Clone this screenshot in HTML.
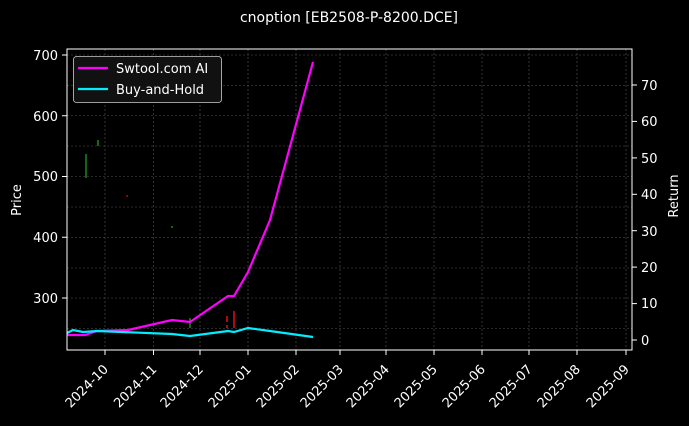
<!DOCTYPE html>
<html><head><style>body{margin:0;background:#000;}svg text{font-family:"DejaVu Sans","Liberation Sans",sans-serif;fill:#fff;}</style></head>
<body><svg width="689" height="421" xmlns="http://www.w3.org/2000/svg">
<rect width="689" height="421" fill="#000"/>
<text x="349" y="22" font-size="14" text-anchor="middle">cnoption [EB2508-P-8200.DCE]</text>
<rect x="67" y="49" width="565" height="301" fill="#000"/>
<g stroke="#555" stroke-width="0.6" stroke-dasharray="2,2">
<line x1="105" y1="49" x2="105" y2="350"/><line x1="153.5" y1="49" x2="153.5" y2="350"/><line x1="200" y1="49" x2="200" y2="350"/><line x1="248" y1="49" x2="248" y2="350"/><line x1="296" y1="49" x2="296" y2="350"/><line x1="340" y1="49" x2="340" y2="350"/><line x1="386" y1="49" x2="386" y2="350"/><line x1="434" y1="49" x2="434" y2="350"/><line x1="482" y1="49" x2="482" y2="350"/><line x1="529" y1="49" x2="529" y2="350"/><line x1="577" y1="49" x2="577" y2="350"/><line x1="626" y1="49" x2="626" y2="350"/>
<line x1="67" y1="55" x2="632" y2="55"/><line x1="67" y1="115.75" x2="632" y2="115.75"/><line x1="67" y1="176.5" x2="632" y2="176.5"/><line x1="67" y1="237.25" x2="632" y2="237.25"/><line x1="67" y1="298" x2="632" y2="298"/>
<line x1="67" y1="85.5" x2="632" y2="85.5"/><line x1="67" y1="146" x2="632" y2="146"/><line x1="67" y1="207" x2="632" y2="207"/><line x1="67" y1="268" x2="632" y2="268"/><line x1="67" y1="328.5" x2="632" y2="328.5"/>
</g>
<g stroke-width="1.5">
<line x1="86" y1="154" x2="86" y2="178" stroke="#1a8a1a"/><line x1="98" y1="140" x2="98" y2="146" stroke="#1a8a1a"/>
<line x1="127" y1="195" x2="127" y2="197" stroke="#a01010"/><line x1="172" y1="226" x2="172" y2="228" stroke="#1a8a1a"/>
<line x1="190" y1="318" x2="190" y2="328" stroke="#1a8a1a"/>
<line x1="227" y1="316" x2="227" y2="322" stroke="#e01010"/><line x1="227" y1="325" x2="227" y2="328" stroke="#e01010"/>
<line x1="234" y1="311" x2="234" y2="328" stroke="#e01010"/>
</g>
<polyline fill="none" stroke="#ff00ff" stroke-width="2.2" points="67,335 85,335 97,331 128,330 172,320 190,322 228,296 234,296 248,272 270,220 313,62"/>
<polyline fill="none" stroke="#00eeff" stroke-width="2.2" points="67,333 73,330 83,332 97,331 172,334 190,336 228,331 234,332 248,328 270,331 313,337"/>
<rect x="67" y="49" width="565" height="301" fill="none" stroke="#fff" stroke-width="1"/>
<g stroke="#fff" stroke-width="1">
<line x1="62" y1="55" x2="67" y2="55"/><line x1="62" y1="115.75" x2="67" y2="115.75"/><line x1="62" y1="176.5" x2="67" y2="176.5"/><line x1="62" y1="237.25" x2="67" y2="237.25"/><line x1="62" y1="298" x2="67" y2="298"/>
<line x1="632" y1="340" x2="637" y2="340"/><line x1="632" y1="303.6" x2="637" y2="303.6"/><line x1="632" y1="267.1" x2="637" y2="267.1"/><line x1="632" y1="230.7" x2="637" y2="230.7"/><line x1="632" y1="194.3" x2="637" y2="194.3"/><line x1="632" y1="157.9" x2="637" y2="157.9"/><line x1="632" y1="121.4" x2="637" y2="121.4"/><line x1="632" y1="85" x2="637" y2="85"/>
<line x1="105" y1="350" x2="105" y2="355"/><line x1="153.5" y1="350" x2="153.5" y2="355"/><line x1="200" y1="350" x2="200" y2="355"/><line x1="248" y1="350" x2="248" y2="355"/><line x1="296" y1="350" x2="296" y2="355"/><line x1="340" y1="350" x2="340" y2="355"/><line x1="386" y1="350" x2="386" y2="355"/><line x1="434" y1="350" x2="434" y2="355"/><line x1="482" y1="350" x2="482" y2="355"/><line x1="529" y1="350" x2="529" y2="355"/><line x1="577" y1="350" x2="577" y2="355"/><line x1="626" y1="350" x2="626" y2="355"/>
</g>
<g font-size="13" text-anchor="end">
<text x="58" y="60">700</text><text x="58" y="121">600</text><text x="58" y="181">500</text><text x="58" y="242">400</text><text x="58" y="303">300</text>
</g>
<g font-size="13" text-anchor="start">
<text x="641" y="345">0</text><text x="641" y="308">10</text><text x="641" y="272">20</text><text x="641" y="236">30</text><text x="641" y="199">40</text><text x="641" y="163">50</text><text x="641" y="126">60</text><text x="641" y="90">70</text>
</g>
<text transform="translate(21,200) rotate(-90)" font-size="13" text-anchor="middle">Price</text>
<text transform="translate(678,196) rotate(-90)" font-size="13" text-anchor="middle">Return</text>
<g font-size="13" text-anchor="end">
<text transform="translate(109,370) rotate(-45)">2024-10</text><text transform="translate(157.5,370) rotate(-45)">2024-11</text><text transform="translate(204,370) rotate(-45)">2024-12</text><text transform="translate(252,370) rotate(-45)">2025-01</text><text transform="translate(300,370) rotate(-45)">2025-02</text><text transform="translate(344,370) rotate(-45)">2025-03</text><text transform="translate(390,370) rotate(-45)">2025-04</text><text transform="translate(438,370) rotate(-45)">2025-05</text><text transform="translate(486,370) rotate(-45)">2025-06</text><text transform="translate(533,370) rotate(-45)">2025-07</text><text transform="translate(581,370) rotate(-45)">2025-08</text><text transform="translate(630,370) rotate(-45)">2025-09</text>
</g>
<rect x="73.5" y="56.5" width="148" height="46" rx="3" fill="#111" stroke="#ccc" stroke-width="0.8"/>
<line x1="78" y1="68" x2="108" y2="68" stroke="#ff00ff" stroke-width="2.2"/>
<line x1="78" y1="89" x2="108" y2="89" stroke="#00eeff" stroke-width="2.2"/>
<text x="116" y="73" font-size="13">Swtool.com AI</text>
<text x="116" y="94" font-size="13">Buy-and-Hold</text>
</svg></body></html>
